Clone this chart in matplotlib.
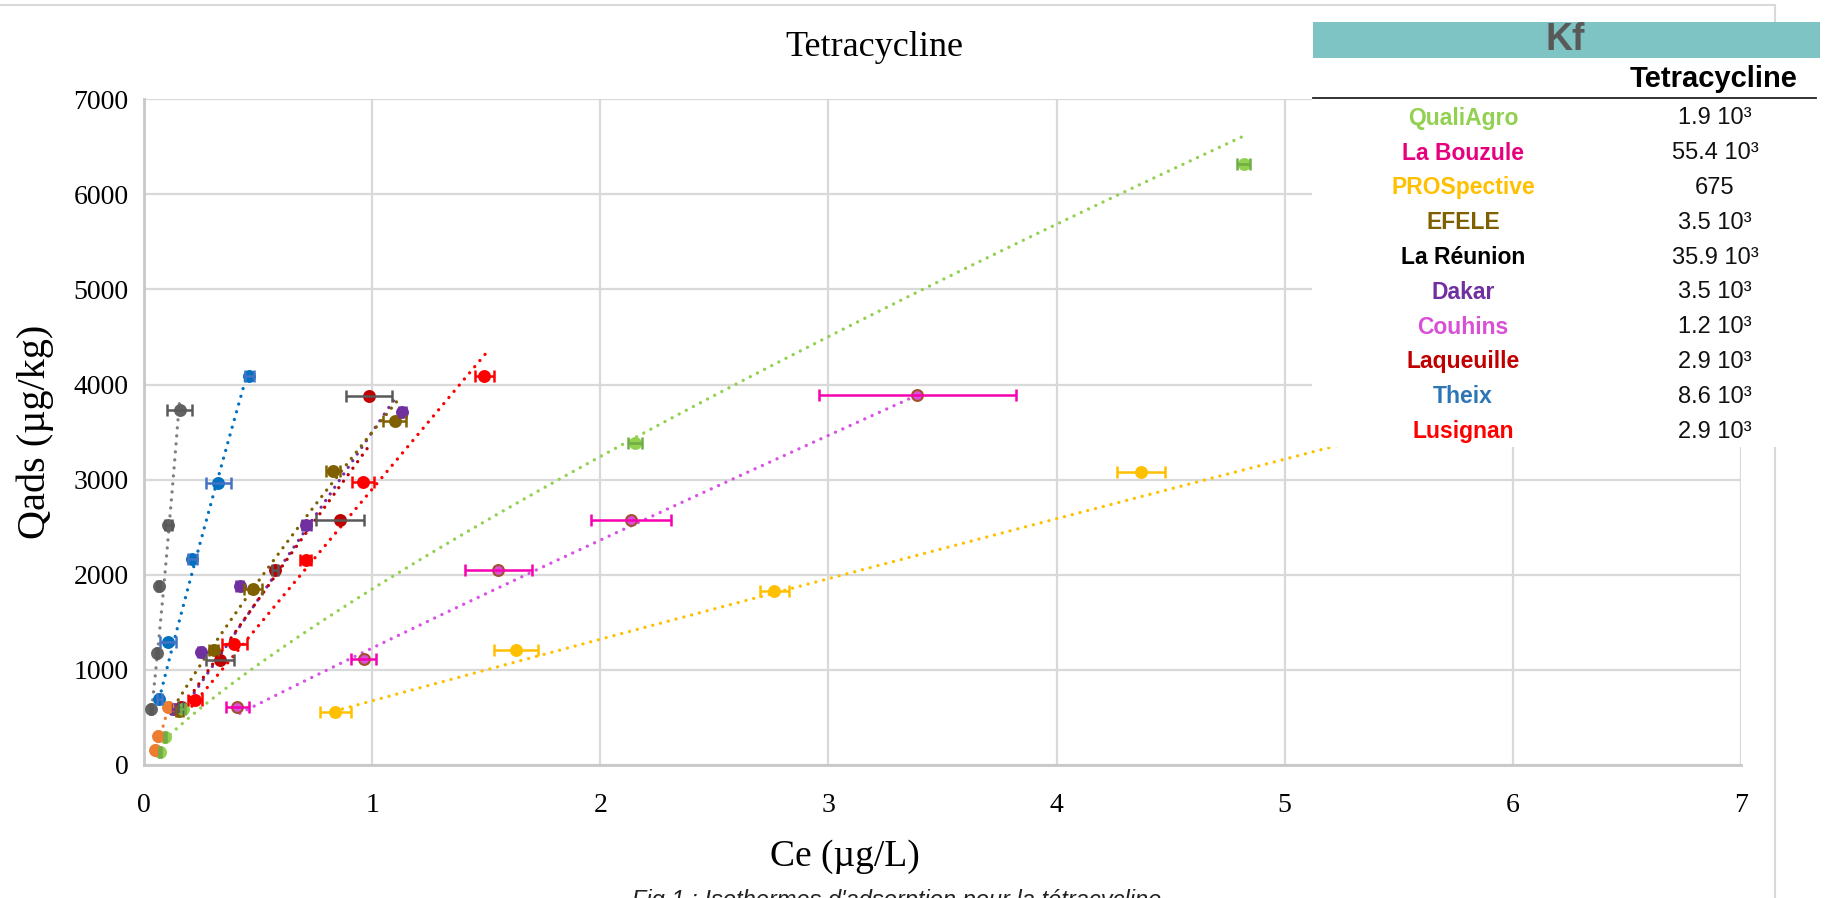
import numpy as np
import matplotlib
matplotlib.use('Agg')
import matplotlib.pyplot as plt
from matplotlib.patches import Rectangle
from matplotlib.lines import Line2D

W, H = 1827, 898

# points: Ce (x), Qads (y), error on Ce
gray_x = [0.032, 0.057, 0.064, 0.106, 0.157]
gray_y = [590, 1180, 1880, 2526, 3736]
gray_err = [0.005, 0.006, 0.008, 0.015, 0.054]

blue_x = [0.067, 0.106, 0.212, 0.325, 0.461]
blue_y = [692, 1298, 2165, 2970, 4092]
blue_err = [0.01, 0.035, 0.02, 0.055, 0.02]

purple_x = [0.128, 0.248, 0.420, 0.712, 1.132]
purple_y = [586, 1186, 1884, 2526, 3709]
purple_err = [0.01, 0.012, 0.015, 0.02, 0.015]

olive_x = [0.155, 0.306, 0.479, 0.829, 1.099]
olive_y = [568, 1210, 1853, 3088, 3614]
olive_err = [0.015, 0.02, 0.04, 0.03, 0.05]

darkred_x = [0.161, 0.333, 0.574, 0.858, 0.986]
darkred_y = [607, 1105, 2046, 2572, 3881]
darkred_err = [0.01, 0.06, 0.015, 0.105, 0.10]

red_x = [0.223, 0.395, 0.708, 0.960, 1.492]
red_y = [684, 1274, 2158, 2976, 4092]
red_err = [0.03, 0.055, 0.025, 0.05, 0.04]

orchid_x = [0.409, 0.963, 1.553, 2.135, 3.390]
orchid_y = [614, 1113, 2053, 2579, 3895]
orchid_err = [0.05, 0.056, 0.147, 0.176, 0.43]

yellow_x = [0.839, 1.629, 2.763, 4.372]
yellow_y = [555, 1210, 1832, 3077]
yellow_err = [0.067, 0.096, 0.062, 0.105]

green_x = [0.070, 0.092, 0.17, 2.153, 4.82]
green_y = [140, 291, 590, 3386, 6316]
green_err = [0.005, 0.005, 0.01, 0.03, 0.03]

orange_x = [0.048, 0.063, 0.106]
orange_y = [158, 305, 607]
orange_err = [0.004, 0.004, 0.006]

# Freundlich trendlines (Kf, n, Ce range)
trend_k = [37000, 8600, 3500, 3500, 3400, 2900, 1230, 675, 1850, 27500]
trend_n = [1.22, 0.93, 1.01, 0.86, 0.97, 0.99, 0.943, 0.97, 0.81, 1.70]
trend_lo = [0.038, 0.067, 0.18, 0.15, 0.16, 0.21, 0.42, 0.87, 0.09, 0.05]
trend_hi = [0.155, 0.457, 1.095, 1.113, 0.985, 1.50, 3.39, 7.0, 4.82, 0.106]

# Kf table
table_sites = ['QualiAgro', 'La Bouzule', 'PROSpective', 'EFELE', 'La Réunion',
               'Dakar', 'Couhins', 'Laqueuille', 'Theix', 'Lusignan']
table_kf = ['1.9 10³', '55.4 10³', '675', '3.5 10³', '35.9 10³',
            '3.5 10³', '1.2 10³', '2.9 10³', '8.6 10³', '2.9 10³']
table_colors = ['#92D050', '#E6007E', '#FFC000', '#7F6000', '#000000',
                '#7030A0', '#D94FD6', '#C00000', '#2E75B6', '#FF0000']

series = [
    (gray_x, gray_y, gray_err, '#636363', '#636363', '#595959', '#7F7F7F'),
    (blue_x, blue_y, blue_err, '#0070C0', '#0070C0', '#4472C4', '#0070C0'),
    (purple_x, purple_y, purple_err, '#7030A0', '#7030A0', '#7030A0', '#7030A0'),
    (olive_x, olive_y, olive_err, '#7F6000', '#7F6000', '#7F6000', '#7F6000'),
    (darkred_x, darkred_y, darkred_err, '#C00000', '#C00000', '#595959', '#C00000'),
    (red_x, red_y, red_err, '#FF0000', '#FF0000', '#FF0000', '#FF0000'),
    (orchid_x, orchid_y, orchid_err, '#DA50DA', '#A0522D', '#F700B0', '#DA50E6'),
    (yellow_x, yellow_y, yellow_err, '#FFC000', '#FFC000', '#FFC000', '#FFC000'),
    (green_x, green_y, green_err, '#92D050', '#92D050', '#70AD47', '#92D050'),
    (orange_x, orange_y, orange_err, '#ED7D31', '#ED7D31', '#ED7D31', '#ED7D31'),
]

serif = 'Liberation Serif'
sans = 'Liberation Sans'

fig = plt.figure(figsize=(W / 100, H / 100), dpi=100)
ax = fig.add_axes([144 / W, 1 - 765 / H, (1741 - 144) / W, (765 - 99.3) / H])
ax.set_xlim(0, 7)
ax.set_ylim(0, 7000)
ax.set_xticks(range(0, 8))
ax.set_yticks(range(0, 7001, 1000))
ax.grid(color='#D9D9D9', linewidth=1.6)
ax.set_axisbelow(True)
for s in ['top', 'right']:
    ax.spines[s].set_visible(False)
for s in ['left', 'bottom']:
    ax.spines[s].set_color('#C8C8C8')
    ax.spines[s].set_linewidth(2)
ax.tick_params(length=0, labelsize=20)
ax.tick_params(axis='x', pad=20)
ax.tick_params(axis='y', pad=11)
for lab in ax.get_xticklabels() + ax.get_yticklabels():
    lab.set_fontfamily(serif)

# trendlines
for i, (xs, ys, er, fc, ec, bc, tc) in enumerate(series):
    cx = np.linspace(trend_lo[i], trend_hi[i], 200)
    ax.plot(cx, trend_k[i] * cx ** trend_n[i], color=tc, lw=2.4,
            linestyle=(0, (0.01, 2.4)), dash_capstyle='round', zorder=2)

# points and error bars
for xs, ys, er, fc, ec, bc, tc in series:
    ax.plot(xs, ys, 'o', ms=7.8, color=fc, mec=ec, mew=1.5, zorder=3)
    ax.errorbar(xs, ys, xerr=er, fmt='none', ecolor=bc, elinewidth=1.8,
                capsize=4.6, capthick=1.8, zorder=4)

ax.set_xlabel('Ce (µg/L)', fontfamily=serif, fontsize=27, va='center')
ax.xaxis.set_label_coords(0.439, -0.137)
ax.set_ylabel('Qads (µg/kg)', fontfamily=serif, fontsize=29, va='center')
ax.yaxis.set_label_coords(-0.068, 0.5)

fig.text(874 / W, 1 - 47 / H, 'Tetracycline', fontfamily=serif, fontsize=26,
         ha='center', va='center')


def fx(px):
    return px / W


def fy(py):
    return 1 - py / H


# chart border
fig.add_artist(Line2D([0, fx(1775)], [fy(5), fy(5)], color='#D9D9D9', lw=1.5, zorder=5))
fig.add_artist(Line2D([fx(1775), fx(1775)], [fy(5), 0], color='#D9D9D9', lw=1.5, zorder=5))

# Kf table overlay
fig.add_artist(Rectangle((fx(1312), fy(447)), fx(W) - fx(1312), fy(57) - fy(447),
                         transform=fig.transFigure, facecolor='white',
                         edgecolor='none', zorder=10))
fig.add_artist(Rectangle((fx(1313), fy(57.5)), fx(1820) - fx(1313), fy(21.5) - fy(57.5),
                         transform=fig.transFigure, facecolor='#7FC4C4',
                         edgecolor='none', zorder=11))
fig.text(fx(1565), fy(40), 'Kf', fontfamily=sans, fontweight='bold', fontsize=27,
         color='#595959', ha='center', va='center', zorder=12)
fig.text(fx(1714), fy(79), 'Tetracycline', fontfamily=sans, fontweight='bold',
         fontsize=21, color='black', ha='center', va='center', zorder=12)
fig.add_artist(Line2D([fx(1313), fx(1816)], [fy(97.7), fy(97.7)], color='#222222',
                      lw=1.3, zorder=12))
for i, (site, kf, col) in enumerate(zip(table_sites, table_kf, table_colors)):
    yy = fy(118.3 + i * 34.8)
    fig.text(fx(1463), yy, site, fontfamily=sans, fontweight='bold', fontsize=16.5,
             color=col, ha='center', va='center', zorder=12)
    fig.text(fx(1715), yy, kf, fontfamily=sans, fontsize=17, color='#111111',
             ha='center', va='center', zorder=12)

# caption cut off at the bottom edge
fig.text(fx(897), fy(907), "Fig.1 : Isothermes d'adsorption pour la tétracycline",
         fontfamily=sans, fontstyle='italic', fontsize=17, ha='center',
         va='baseline', color='#222222')

fig.savefig('out.png', dpi=100)
